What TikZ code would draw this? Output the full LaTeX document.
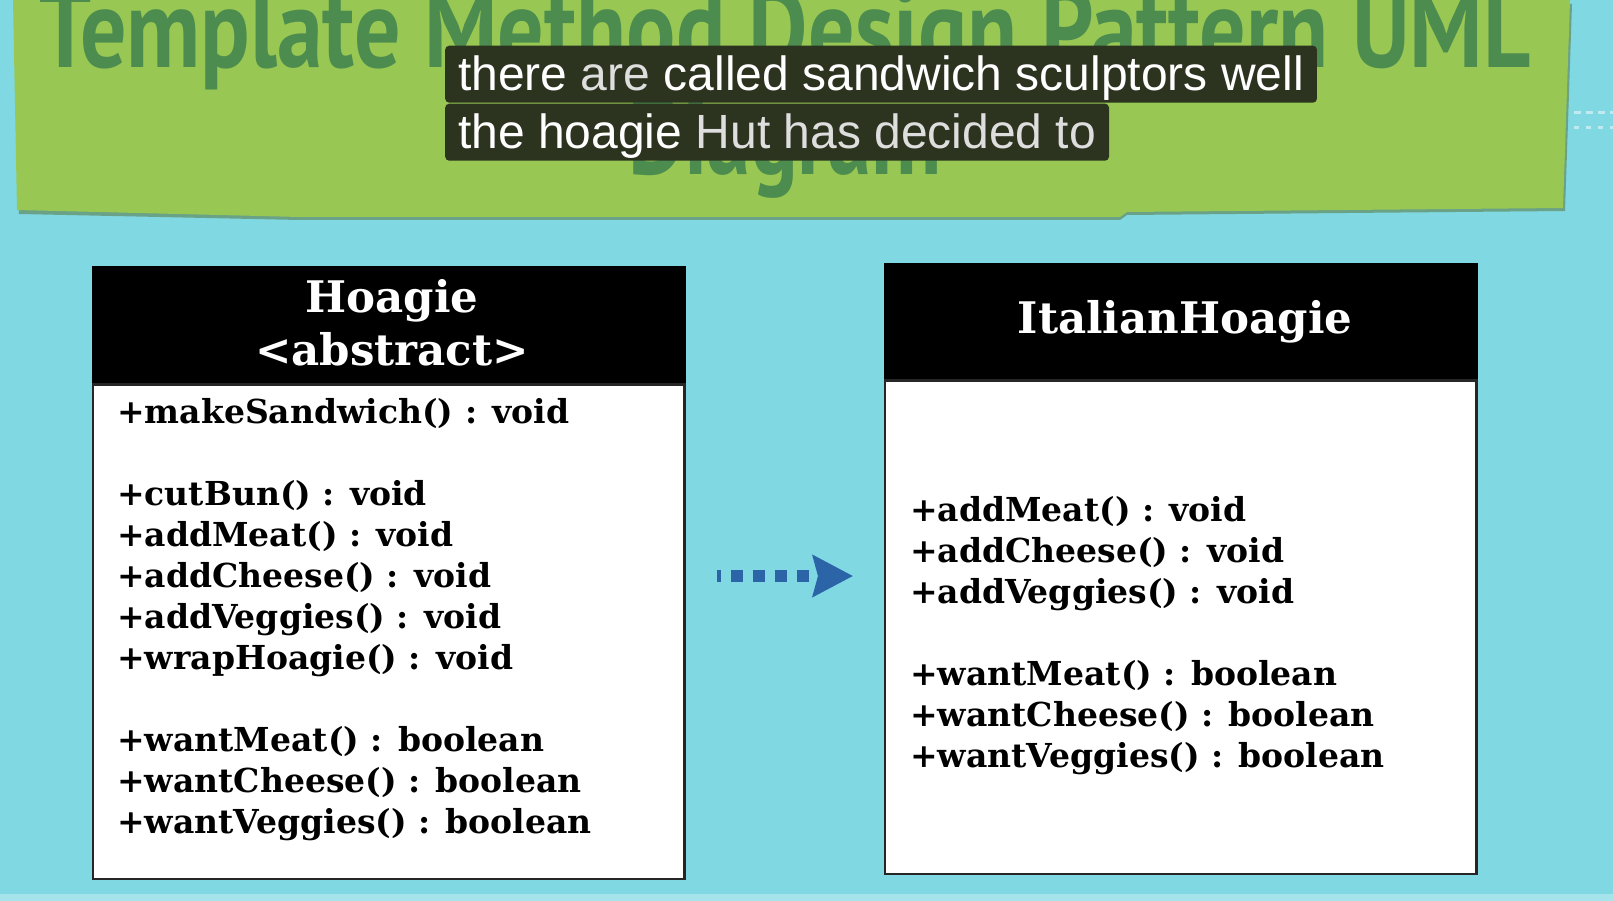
\documentclass[tikz,border=0pt]{standalone}
\usepackage{fontspec}
\setmainfont{DejaVu Serif}
\newfontfamily\subtitulo{Liberation Sans}
\newfontfamily\rotulo{PT Sans}
\usetikzlibrary{arrows.meta}

\definecolor{fondo}{RGB}{128,216,226}
\definecolor{cartel}{RGB}{152,199,84}
\definecolor{tinta}{RGB}{76,140,78}
\definecolor{caja}{RGB}{44,52,32}
\definecolor{gris}{RGB}{222,222,222}
\definecolor{azul}{RGB}{44,100,168}

\tikzset{
  cabecera/.style={draw=black, fill=black, line width=2.5pt, inner sep=0pt, anchor=north west},
  cuerpo/.style={draw=black!85, fill=white, line width=2.5pt, inner sep=0pt, anchor=north},
  nombre/.style={text=white, font=\fontsize{43.5}{50}\selectfont\bfseries, inner sep=0pt, anchor=base},
  metodo/.style={text=black, font=\fontsize{33}{41}\selectfont\bfseries, inner sep=0pt, anchor=base west},
  subt/.style={fill=caja, rounded corners=4pt, text=white, font=\subtitulo\fontsize{48}{56}\selectfont,
    inner xsep=13pt, inner ysep=0pt, text height=45pt, text depth=12pt, anchor=north west},
  realiza/.style={draw=azul, line width=12pt, dash pattern=on 12pt off 10pt, dash phase=8pt,
    -{Stealth[length=40pt, width=41pt, inset=5pt]}}
}

\begin{document}
\begin{tikzpicture}[x=1pt, y=-1pt]

  % Fondo
  \fill[fondo] (0,0) rectangle (1613,901);
  \useasboundingbox (0,0) rectangle (1613,901);
  \fill[fondo!70!white] (0,894) rectangle (1613,901);
  \draw[white, opacity=.5, line width=3pt, dash pattern=on 7pt off 5pt] (1574,113) -- (1613,113);
  \draw[white, opacity=.5, line width=3pt, dash pattern=on 5pt off 7pt] (1574,128) -- (1613,128);

  % Cartel del titulo
  \fill[black!45!cartel, opacity=.5] (15,4) -- (19,214) -- (300,220) -- (1120,220) -- (1127,215) -- (1565,211) -- (1572,4) -- cycle; % sombra
  \fill[cartel] (13,0) -- (17,210) -- (300,217) -- (1120,217) -- (1127,212) -- (1563,208) -- (1570,0) -- cycle;
  \node[text=tinta, anchor=base, inner sep=0pt] (titulo) at (785,68) {\resizebox{1490pt}{80pt}{\rotulo\bfseries Template Method Design Pattern UML}};
  \node[text=tinta, anchor=base, inner sep=0pt] (titulo2) at (785,175) {\resizebox{314pt}{80pt}{\rotulo\bfseries Diagram}};

  % Subtitulos
  \node[subt] (sub1) at (445,45.5) {there \textcolor{gris}{are} called sandwich sculptors well};
  \node[subt] (sub2) at (445,103.5) {the hoagie \textcolor{gris}{Hut has decided to}};

  % Clase abstracta
  \node[cabecera, minimum width=591.5pt, minimum height=114.2pt] (hoagie) at (91.6,266.4) {};
  \node[cuerpo, minimum width=591.5pt, minimum height=494.8pt] (hoagiecuerpo) at (hoagie.south) {};
  \node[nombre] (hoagienombre) at (392,312) {Hoagie};
  \node[nombre] (hoagietipo) at (392,365) {<abstract>};
  \foreach \y/\metodo [count=\i] in {423/+makeSandwich() : void, 505/+cutBun() : void,
      546/+addMeat() : void, 587/+addCheese() : void, 628/+addVeggies() : void,
      669/+wrapHoagie() : void, 751/+wantMeat() : boolean, 792/+wantCheese() : boolean,
      833/+wantVeggies() : boolean}
    \node[metodo] (hoagie-\i) at (117,\y) {\metodo};

  % Clase concreta
  \node[cabecera, minimum width=591.5pt, minimum height=113.1pt] (italian) at (883.7,263.4) {};
  \node[cuerpo, minimum width=591.5pt, minimum height=493.8pt] (italiancuerpo) at (italian.south) {};
  \node[nombre] (italiannombre) at (1185,333) {ItalianHoagie};
  \foreach \y/\metodo [count=\i] in {521/+addMeat() : void, 562/+addCheese() : void,
      603/+addVeggies() : void, 685/+wantMeat() : boolean, 726/+wantCheese() : boolean,
      767/+wantVeggies() : boolean}
    \node[metodo] (italian-\i) at (910,\y) {\metodo};

  % Flecha de realizacion
  \coordinate (alto) at (0,576);
  \draw[realiza, shorten <=31pt, shorten >=30.7pt] (hoagiecuerpo.east |- alto) -- (italiancuerpo.west |- alto);

\end{tikzpicture}
\end{document}
